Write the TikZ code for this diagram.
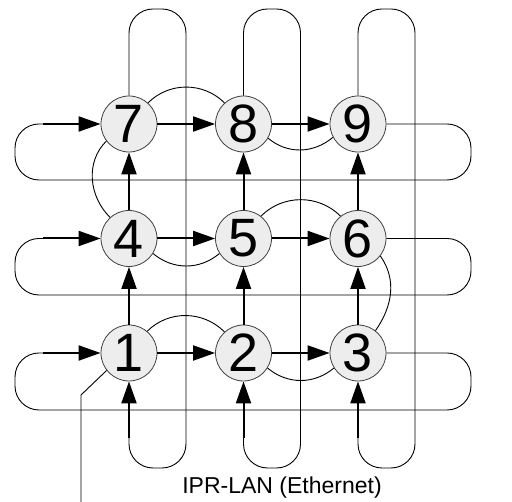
\documentclass[tikz,border=0pt]{standalone}
\usepackage{fontspec}
\setmainfont{Liberation Sans}
\usetikzlibrary{arrows.meta}
\begin{document}
\begin{tikzpicture}[x=1pt,y=1pt,
  peer/.style={circle, draw=black!75, line width=0.8pt, fill=black!7,
    minimum size=56pt, inner sep=0pt, font=\fontsize{54}{54}\selectfont},
  link/.style={line width=2pt, -{Triangle[length=22pt,width=15pt]}},
  wire/.style={line width=0.9pt, rounded corners=24pt},
  ring/.style={line width=0.9pt}]
\useasboundingbox (0,0) rectangle (512,502);

% 3x3 grid of processors
\node[peer] (n7) at (129,378)   {7};
\node[peer] (n8) at (243.5,378) {8};
\node[peer] (n9) at (358,378)   {9};
\node[peer] (n4) at (129,263.5)   {4};
\node[peer] (n5) at (243.5,263.5) {5};
\node[peer] (n6) at (358,263.5)   {6};
\node[peer] (n1) at (129,149)   {1};
\node[peer] (n2) at (243.5,149) {2};
\node[peer] (n3) at (358,149)   {3};

% row links
\draw[link] (n7) -- (n8);
\draw[link] (n8) -- (n9);
\draw[link] (n4) -- (n5);
\draw[link] (n5) -- (n6);
\draw[link] (n1) -- (n2);
\draw[link] (n2) -- (n3);
% column links
\draw[link] (n1) -- (n4);
\draw[link] (n4) -- (n7);
\draw[link] (n2) -- (n5);
\draw[link] (n5) -- (n8);
\draw[link] (n3) -- (n6);
\draw[link] (n6) -- (n9);

% horizontal wrap-around rings
\coordinate (h7) at (43,378);
\coordinate (h4) at (43,263.5);
\coordinate (h1) at (43,149);
\draw[wire] (n9.east) -- (471,378) -- (471,322) -- (15,322) -- (15,378) -- (h7);
\draw[wire] (n6.east) -- (471,263.5) -- (471,207) -- (15,207) -- (15,263.5) -- (h4);
\draw[wire] (n3.east) -- (471,149) -- (471,92) -- (15,92) -- (15,149) -- (h1);
\draw[link] (h7) -- (n7);
\draw[link] (h4) -- (n4);
\draw[link] (h1) -- (n1);

% vertical wrap-around rings
\coordinate (v1) at (129,64);
\coordinate (v2) at (243.5,64);
\coordinate (v3) at (358,64);
\draw[wire] (n7.north) -- (129,493) -- (186,493) -- (186,34) -- (129,34) -- (v1);
\draw[wire] (n8.north) -- (243.5,493) -- (300.5,493) -- (300.5,34) -- (243.5,34) -- (v2);
\draw[wire] (n9.north) -- (358,493) -- (415,493) -- (415,34) -- (358,34) -- (v3);
\draw[link] (v1) -- (n1);
\draw[link] (v2) -- (n2);
\draw[link] (v3) -- (n3);

% serpentine chain 1-2-3-6-5-4-7-8-9
\draw[ring] (n1.50) to[out=45,in=135] (n2.132);
\draw[ring] (n2.-32) to[out=-40,in=-140] (n3.-148);
\draw[ring] (n6.-38) to[out=-55,in=55] (n3.52);
\draw[ring] (n5.52) to[out=45,in=135] (n6.128);
\draw[ring] (n4.-32) to[out=-40,in=-140] (n5.-148);
\draw[ring] (n7.217) to[out=225,in=135] (n4.132);
\draw[ring] (n7.48) to[out=45,in=135] (n8.132);
\draw[ring] (n8.-30) to[out=-40,in=-140] (n9.-152);

% attachment to the LAN
\coordinate (lan) at (81,0);
\draw[ring] (n1.218) -- (81,107) -- (lan);
\node[anchor=base, font=\fontsize{23}{23}\selectfont] (lanlabel) at (282,8) {IPR-LAN (Ethernet)};
\end{tikzpicture}
\end{document}
